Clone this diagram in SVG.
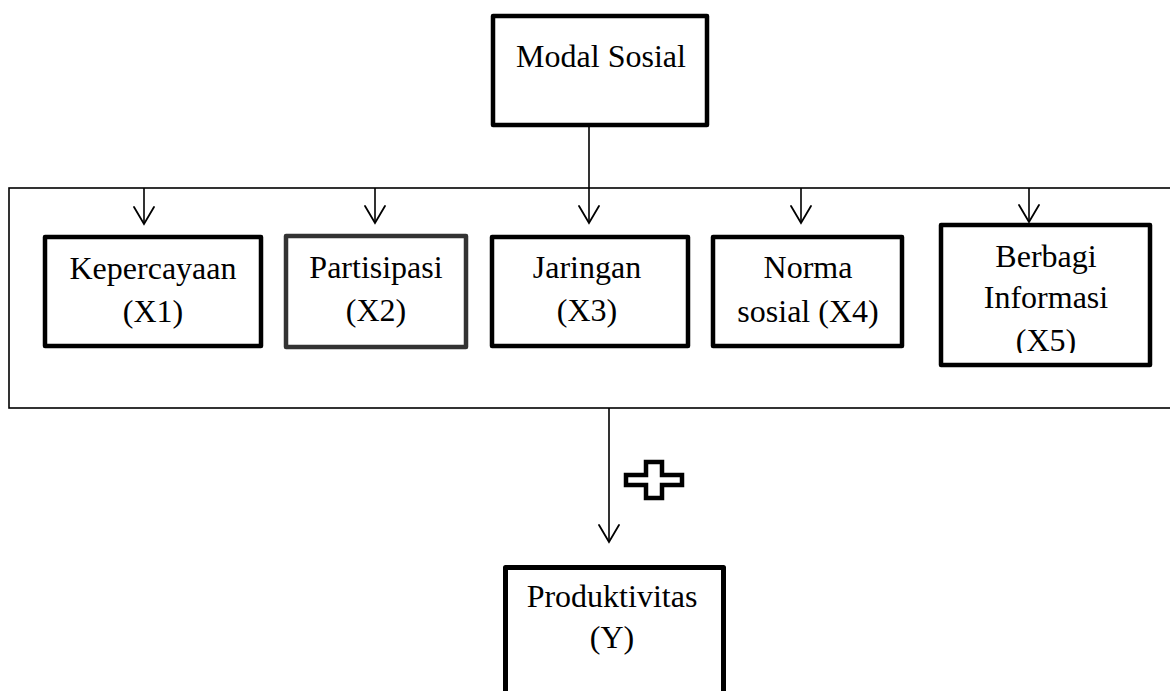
<svg xmlns="http://www.w3.org/2000/svg" width="1170" height="691" viewBox="0 0 1170 691">
<style>
.box{fill:#fff;stroke:#000;stroke-width:4.5;stroke-linejoin:round}
.gray{stroke:#333}
.frame{fill:none;stroke:#000;stroke-width:1.6}
.ln{fill:none;stroke:#000;stroke-width:1.6}
.hd{fill:none;stroke:#000;stroke-width:1.8;stroke-linecap:round;stroke-linejoin:miter}
</style>
<defs>
<clipPath id="c5"><rect x="941" y="225" width="209" height="128"/></clipPath>
</defs>
<rect width="1170" height="691" fill="#fff"/>
<rect id="frame" class="frame" x="9" y="188" width="1200" height="220"/>
<g id="connectors">
<path class="ln" d="M589 127V223M144 188V224M375 188V223M801 188V223M1029 188V222M609 408V542"/>
<path class="hd" d="M134 207L144 224L154 207M365 206L375 223L385 206M579 206L589 223L599 206M791 206L801 223L811 206M1019 205L1029 222L1039 205M599 525L609 542L619 525"/>
</g>
<g font-family="Liberation Serif, serif" font-size="32" fill="#000" text-anchor="middle">
<g id="modal">
<rect class="box" x="493" y="16" width="214" height="109"/>
<text x="601" y="67">Modal Sosial</text>
</g>
<g id="x1">
<rect class="box" x="45" y="237" width="216" height="109"/>
<text x="153" y="279">Kepercayaan</text>
<text x="153" y="322">(X1)</text>
</g>
<g id="x2">
<rect class="box gray" x="286" y="236" width="180" height="111"/>
<text x="376" y="278">Partisipasi</text>
<text x="376" y="321">(X2)</text>
</g>
<g id="x3">
<rect class="box" x="492" y="237" width="196" height="109"/>
<text x="587" y="278">Jaringan</text>
<text x="587" y="321">(X3)</text>
</g>
<g id="x4">
<rect class="box" x="713" y="237" width="189" height="109"/>
<text x="808" y="278">Norma</text>
<text x="808" y="322">sosial (X4)</text>
</g>
<g id="x5">
<rect class="box" x="941" y="225" width="209" height="140"/>
<g clip-path="url(#c5)">
<text x="1046" y="267">Berbagi</text>
<text x="1046" y="308">Informasi</text>
<text x="1046" y="351">(X5)</text>
</g>
</g>
<g id="plus">
<path d="M646 462H662V475H682V485H662V498H646V485H626V475H646Z" fill="#fff" stroke="#000" stroke-width="4.5" stroke-linejoin="miter"/>
</g>
<g id="y">
<path d="M505.5 700V567.5H723.5V700" fill="#fff" stroke="#000" stroke-width="5" stroke-linejoin="round"/>
<text x="612" y="607">Produktivitas</text>
<text x="612" y="648">(Y)</text>
</g>
</g>
</svg>
